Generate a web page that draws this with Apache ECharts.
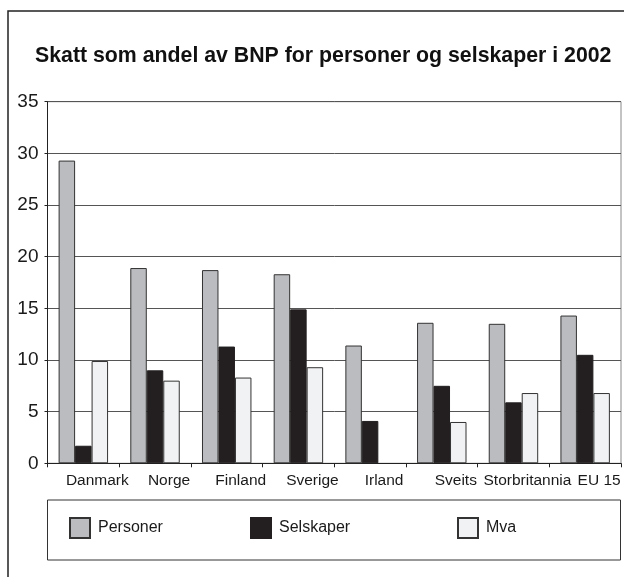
<!DOCTYPE html>
<html>
<head>
<meta charset="utf-8">
<title>Skatt som andel av BNP</title>
<script src="https://cdn.jsdelivr.net/npm/echarts@6/dist/echarts.min.js"></script>
<style>
  html, body { margin: 0; padding: 0; background: #fff; }
  #chart { width: 624px; height: 577px; }
</style>
</head>
<body>
<div id="chart"></div>
<script>
// data
var countries = ["Danmark", "Norge", "Finland", "Sverige", "Irland", "Sveits", "Storbritannia", "EU 15"];
var personer = [29.3, 18.9, 18.7, 18.3, 11.4, 13.6, 13.5, 14.3];
var selskaper = [1.7, 9.0, 11.3, 14.9, 4.1, 7.5, 5.9, 10.5];
var mva = [9.9, 8.0, 8.3, 9.3, null, 4.0, 6.8, 6.8];
var yTicks = [0, 5, 10, 15, 20, 25, 30, 35];

var chart = echarts.init(document.getElementById("chart"));
var font = "Liberation Sans, Arial, sans-serif";

function legendItem(name, left) {
  return {
    data: [name],
    left: left,
    top: 517,
    padding: 0,
    icon: "rect",
    itemWidth: 20,
    itemHeight: 20,
    itemGap: 0,
    textStyle: { fontFamily: font, fontSize: 16, color: "#1a1a1a", padding: [0, 0, 0, 3] }
  };
}

chart.setOption({
  animation: false,
  backgroundColor: "#fff",
  title: {
    text: "Skatt som andel av BNP for personer og selskaper i 2002",
    left: 35,
    top: 46,
    padding: 0,
    textStyle: { fontFamily: font, fontSize: 21.3, fontWeight: "bold", color: "#111" }
  },
  graphic: [
    {
      type: "rect",
      shape: { x: 8, y: 11, width: 700, height: 700 },
      style: { fill: "none", stroke: "#222", lineWidth: 1.5 },
      silent: true
    },
    {
      type: "rect",
      shape: { x: 47.5, y: 500, width: 573, height: 60 },
      style: { fill: "none", stroke: "#333", lineWidth: 1 },
      silent: true
    }
  ],
  legend: [
    legendItem("Personer", 69),
    legendItem("Selskaper", 250),
    legendItem("Mva", 457)
  ],
  grid: {
    left: 47.5,
    right: 3,
    top: 101.7,
    bottom: 113.7,
    show: true,
    borderColor: "#888",
    borderWidth: 1
  },
  xAxis: {
    type: "category",
    data: countries,
    axisLine: { lineStyle: { color: "#222", width: 1 } },
    axisTick: { show: true, length: 4, lineStyle: { color: "#222" } },
    axisLabel: {
      interval: 0,
      margin: 9,
      fontFamily: font,
      fontSize: 15.5,
      color: "#1a1a1a",
      padding: [0, 0, 0, 28]
    }
  },
  yAxis: {
    type: "value",
    min: yTicks[0],
    max: yTicks[yTicks.length - 1],
    interval: 5,
    axisLine: { show: true, lineStyle: { color: "#222", width: 1 } },
    axisTick: { show: true, length: 3, lineStyle: { color: "#222" } },
    splitLine: { lineStyle: { color: "#555", width: 1 } },
    axisLabel: { margin: 9, fontFamily: font, fontSize: 19, color: "#1a1a1a" }
  },
  series: [
    {
      name: "Personer",
      type: "bar",
      data: personer,
      barGap: "0%",
      barCategoryGap: "31%",
      itemStyle: { color: "#bbbcbf", borderColor: "#333", borderWidth: 1 }
    },
    {
      name: "Selskaper",
      type: "bar",
      data: selskaper,
      itemStyle: { color: "#231f20", borderColor: "#231f20", borderWidth: 1 }
    },
    {
      name: "Mva",
      type: "bar",
      data: mva,
      itemStyle: { color: "#f1f2f4", borderColor: "#333", borderWidth: 1 }
    }
  ]
});
</script>
</body>
</html>
